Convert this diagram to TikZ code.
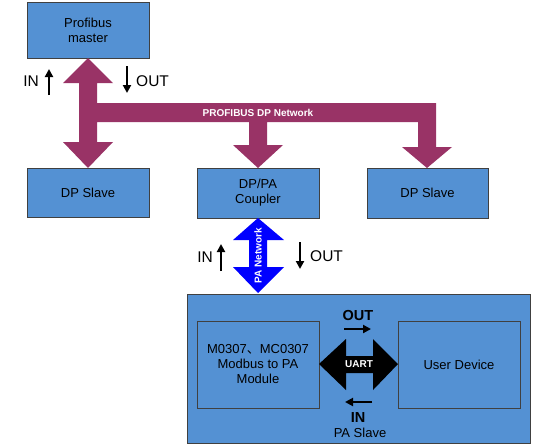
\documentclass[tikz,border=0pt]{standalone}
\usepackage{fontspec}
\setmainfont{Liberation Sans}
\newfontfamily\cjk{Noto Sans CJK SC}
\usetikzlibrary{arrows.meta}
\definecolor{boxblue}{RGB}{84,145,211}
\definecolor{plum}{RGB}{153,51,102}
\definecolor{pablue}{RGB}{0,0,255}
\begin{document}
\begin{tikzpicture}[x=1pt,y=-1pt,
  box/.style={draw=black!75,line width=0.8pt,fill=boxblue,inner sep=0pt,align=center,font=\fontsize{13}{15}\selectfont},
  lbl/.style={font=\fontsize{15.5}{17}\selectfont,inner sep=0pt},
  blbl/.style={font=\bfseries\fontsize{14.5}{17}\selectfont,inner sep=0pt},
  wlbl/.style={text=white,font=\bfseries\fontsize{10}{12}\selectfont,inner sep=0pt},
  smallarrow/.style={line width=2pt,-{Triangle[width=8pt,length=8pt]}}]
\useasboundingbox (0,0) rectangle (534,445);
% boxes
\node[box,minimum width=122pt,minimum height=56pt] (master) at (88,30) {Profibus\\master};
\node[box,minimum width=122pt,minimum height=49pt] (slave1) at (88,192.5) {DP Slave};
\node[box,minimum width=122pt,minimum height=50pt] (coupler) at (258,193) {DP/PA\\Coupler};
\node[box,minimum width=121pt,minimum height=50pt] (slave2) at (427.5,193) {DP Slave};
\node[box,minimum width=343pt,minimum height=149pt] (paslave) at (358.5,368.5) {};
\node[box,minimum width=122pt,minimum height=87pt] (module) at (258,364.5) {M0307{\cjk 、}MC0307\\Modbus to PA\\Module};
\node[box,minimum width=122pt,minimum height=87pt] (user) at (459,364.5) {User Device};
% purple network
\fill[plum] (88,58) -- (113,83) -- (97,83) -- (97,103) -- (436,103) -- (436,147) -- (452,147) -- (427,168)
  -- (402,147) -- (418,147) -- (418,122) -- (267,122) -- (267,145) -- (283,145) -- (258,168) -- (233,145)
  -- (249,145) -- (249,122) -- (97,122) -- (97,142) -- (113,142) -- (88,168) -- (63,142) -- (79,142)
  -- (79,83) -- (63,83) -- cycle;
\node[wlbl] (dpnet) at (258,113) {PROFIBUS DP Network};
% PA network
\fill[pablue] (258,218) -- (284,240) -- (267,240) -- (267,267) -- (284,267) -- (258,293) -- (233,267)
  -- (249,267) -- (249,240) -- (233,240) -- cycle;
\node[wlbl,rotate=90] (panet) at (258,256) {PA Network};
% UART
\fill[black] (319,364) -- (346,339) -- (346,356) -- (373,356) -- (373,339) -- (398,364) -- (373,390)
  -- (373,373) -- (346,373) -- (346,390) -- cycle;
\node[wlbl] (uart) at (359,364) {UART};
% labels and small arrows
\node[lbl,anchor=east] (in1) at (39,81) {IN};
\coordinate (in1a) at (49,95); \coordinate (in1b) at (49,69);
\draw[smallarrow] (in1a) -- (in1b);
\coordinate (out1a) at (127,66); \coordinate (out1b) at (127,93);
\draw[smallarrow] (out1a) -- (out1b);
\node[lbl,anchor=west] (out1) at (136,81) {OUT};
\node[lbl,anchor=east] (in2) at (213,257) {IN};
\coordinate (in2a) at (221,271); \coordinate (in2b) at (221,244);
\draw[smallarrow] (in2a) -- (in2b);
\coordinate (out2a) at (300,242); \coordinate (out2b) at (300,269);
\draw[smallarrow] (out2a) -- (out2b);
\node[lbl,anchor=west] (out2) at (310,256) {OUT};
\node[blbl] (out3) at (358,315) {OUT};
\coordinate (out3a) at (344,329); \coordinate (out3b) at (371,329);
\draw[smallarrow] (out3a) -- (out3b);
\coordinate (in3a) at (372,402); \coordinate (in3b) at (345,402);
\draw[smallarrow] (in3a) -- (in3b);
\node[blbl] (in3) at (358,417) {IN};
\node[font=\fontsize{13}{15}\selectfont,inner sep=0pt] (pal) at (360,433) {PA Slave};
\end{tikzpicture}
\end{document}
